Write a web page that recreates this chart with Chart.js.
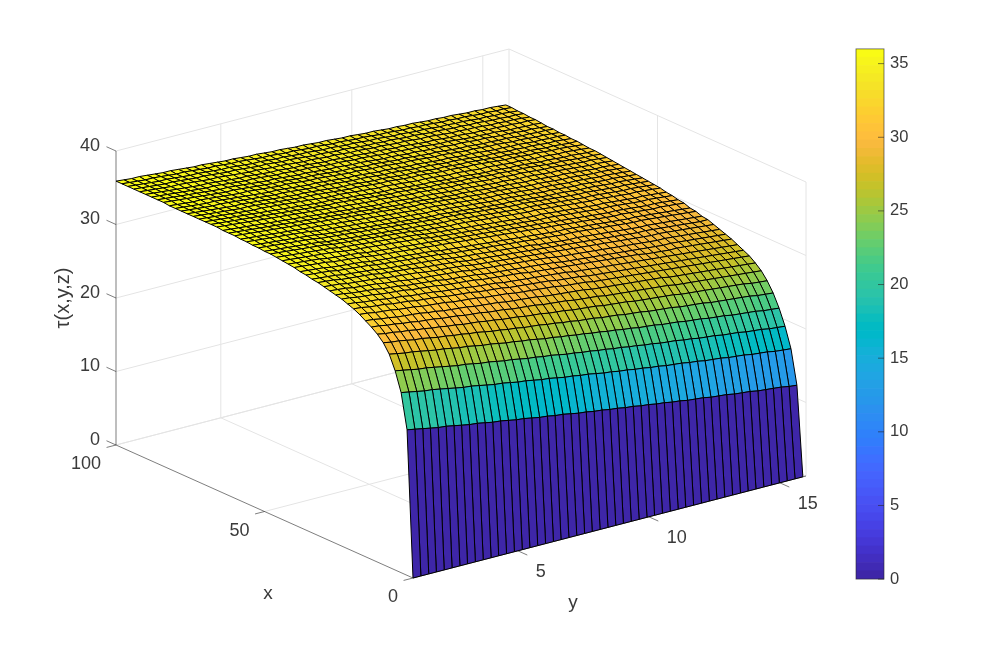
<!DOCTYPE html>
<html>
<head>
<meta charset="utf-8">
<title>tau surface</title>
<script src="https://cdn.jsdelivr.net/npm/chart.js@4"></script>
<style>
  html, body { margin: 0; padding: 0; background: #fff; }
  #main { position: absolute; left: 0; top: 0; }
  #bar { position: absolute; left: 850px; top: 33px; }
</style>
</head>
<body>
<canvas id="main" width="1003" height="651"></canvas>
<canvas id="bar" width="70" height="562"></canvas>
<script>
const xGrid = [0,2,4,6,8,10,12,14,16,18,20,22,24,26,28,30,32,34,36,38,40,42,44,46,48,50,52,54,56,58,60,62,64,66,68,70,72,74,76,78,80,82,84,86,88,90,92,94,96,98,100];
const yGrid = [1,1.30,1.60,1.89,2.19,2.49,2.79,3.08,3.38,3.68,3.98,4.27,4.57,4.87,5.17,5.46,5.76,6.06,6.36,6.65,6.95,7.25,7.55,7.84,8.14,8.44,8.74,9.03,9.33,9.63,9.93,10.22,10.52,10.82,11.12,11.41,11.71,12.01,12.31,12.60,12.90,13.20,13.50,13.79,14.09,14.39,14.69,14.98,15.28,15.58,15.88];
const xTicks = [0, 50, 100];
const yTicks = [5, 10, 15];
const zTicks = [0, 10, 20, 30, 40];
// tau: one row per xGrid entry, one column per yGrid entry
const tauRows = [
[0,0,0,0,0,0,0,0,0,0,0,0,0,0,0,0,0,0,0,0,0,0,0,0,0,0,0,0,0,0,0,0,0,0,0,0,0,0,0,0,0,0,0,0,0,0,0,0,0,0,0],
[19.8,19.6,19.4,19.2,19.0,18.9,18.7,18.5,18.3,18.2,18.0,17.8,17.7,17.5,17.3,17.2,17.0,16.8,16.7,16.5,16.4,16.2,16.0,15.9,15.7,15.6,15.4,15.3,15.1,15.0,14.8,14.7,14.5,14.4,14.2,14.1,13.9,13.8,13.7,13.5,13.4,13.3,13.1,13.0,12.9,12.7,12.6,12.5,12.4,12.2,12.1],
[24.5,24.3,24.1,23.9,23.8,23.6,23.4,23.2,23.0,22.9,22.7,22.5,22.3,22.2,22.0,21.8,21.7,21.5,21.3,21.2,21.0,20.8,20.7,20.5,20.4,20.2,20.0,19.9,19.7,19.6,19.4,19.3,19.1,19.0,18.8,18.7,18.6,18.4,18.3,18.1,18.0,17.9,17.7,17.6,17.5,17.3,17.2,17.1,16.9,16.8,16.7],
[27.1,26.9,26.7,26.5,26.4,26.2,26.0,25.8,25.6,25.5,25.3,25.1,25.0,24.8,24.6,24.5,24.3,24.1,24.0,23.8,23.7,23.5,23.3,23.2,23.0,22.9,22.7,22.6,22.4,22.3,22.1,22.0,21.8,21.7,21.5,21.4,21.3,21.1,21.0,20.8,20.7,20.6,20.4,20.3,20.2,20.0,19.9,19.8,19.6,19.5,19.4],
[29.0,28.8,28.6,28.5,28.3,28.1,27.9,27.8,27.6,27.4,27.3,27.1,26.9,26.8,26.6,26.4,26.3,26.1,26.0,25.8,25.6,25.5,25.3,25.2,25.0,24.9,24.7,24.6,24.4,24.3,24.1,24.0,23.8,23.7,23.6,23.4,23.3,23.2,23.0,22.9,22.8,22.6,22.5,22.4,22.2,22.1,22.0,21.9,21.7,21.6,21.5],
[30.2,30.0,29.9,29.7,29.5,29.4,29.2,29.0,28.9,28.7,28.6,28.4,28.3,28.1,27.9,27.8,27.6,27.5,27.3,27.2,27.1,26.9,26.8,26.6,26.5,26.3,26.2,26.1,25.9,25.8,25.7,25.5,25.4,25.3,25.1,25.0,24.9,24.8,24.6,24.5,24.4,24.3,24.1,24.0,23.9,23.8,23.7,23.6,23.4,23.3,23.2],
[31.0,30.8,30.7,30.5,30.4,30.2,30.1,29.9,29.8,29.6,29.5,29.3,29.2,29.1,28.9,28.8,28.6,28.5,28.4,28.2,28.1,28.0,27.8,27.7,27.6,27.4,27.3,27.2,27.1,26.9,26.8,26.7,26.6,26.4,26.3,26.2,26.1,26.0,25.9,25.7,25.6,25.5,25.4,25.3,25.2,25.1,25.0,24.9,24.7,24.6,24.5],
[31.6,31.5,31.3,31.2,31.0,30.9,30.7,30.6,30.5,30.3,30.2,30.1,29.9,29.8,29.7,29.5,29.4,29.3,29.1,29.0,28.9,28.8,28.6,28.5,28.4,28.3,28.1,28.0,27.9,27.8,27.6,27.5,27.4,27.3,27.2,27.1,27.0,26.9,26.8,26.6,26.5,26.4,26.3,26.2,26.1,26.0,25.9,25.8,25.7,25.6,25.5],
[32.1,32.0,31.8,31.7,31.5,31.4,31.3,31.2,31.0,30.9,30.7,30.6,30.5,30.4,30.2,30.1,30.0,29.9,29.7,29.6,29.5,29.4,29.3,29.1,29.0,28.9,28.8,28.7,28.6,28.4,28.3,28.2,28.1,28.0,27.9,27.8,27.7,27.6,27.5,27.3,27.2,27.1,27.0,26.9,26.8,26.7,26.6,26.5,26.4,26.3,26.2],
[32.6,32.5,32.3,32.2,32.1,31.9,31.8,31.7,31.5,31.4,31.3,31.2,31.0,30.9,30.8,30.7,30.5,30.4,30.3,30.2,30.0,29.9,29.8,29.7,29.6,29.5,29.3,29.2,29.1,29.0,28.8,28.7,28.6,28.5,28.4,28.3,28.2,28.1,28.0,27.9,27.8,27.7,27.6,27.5,27.4,27.3,27.2,27.1,27.0,26.9,26.8],
[33.0,32.9,32.7,32.6,32.5,32.3,32.2,32.1,31.9,31.8,31.7,31.6,31.4,31.3,31.2,31.1,30.9,30.8,30.7,30.6,30.4,30.3,30.2,30.1,30.0,29.9,29.7,29.6,29.5,29.4,29.2,29.1,29.0,28.9,28.8,28.7,28.6,28.5,28.4,28.3,28.2,28.1,28.0,27.9,27.8,27.7,27.6,27.5,27.4,27.3,27.2],
[33.3,33.2,33.0,32.9,32.8,32.6,32.5,32.4,32.2,32.1,32.0,31.9,31.7,31.6,31.5,31.4,31.2,31.1,31.0,30.9,30.7,30.6,30.5,30.4,30.3,30.2,30.1,30.0,29.9,29.7,29.6,29.5,29.4,29.3,29.2,29.1,29.0,28.9,28.8,28.7,28.6,28.5,28.4,28.3,28.2,28.1,28.0,27.9,27.8,27.7,27.6],
[33.6,33.5,33.3,33.2,33.1,32.9,32.8,32.7,32.6,32.4,32.3,32.2,32.1,31.9,31.8,31.7,31.6,31.5,31.3,31.2,31.1,31.0,30.9,30.8,30.6,30.5,30.4,30.3,30.2,30.1,30.0,29.9,29.8,29.7,29.6,29.5,29.4,29.3,29.2,29.0,28.9,28.8,28.7,28.7,28.6,28.5,28.4,28.3,28.2,28.1,28.0],
[33.8,33.7,33.5,33.4,33.3,33.2,33.0,32.9,32.8,32.6,32.5,32.4,32.3,32.2,32.0,31.9,31.8,31.7,31.6,31.4,31.3,31.2,31.1,31.0,30.9,30.8,30.7,30.6,30.5,30.3,30.2,30.1,30.0,29.9,29.8,29.7,29.6,29.5,29.4,29.3,29.2,29.1,29.0,29.0,28.9,28.8,28.7,28.6,28.5,28.4,28.3],
[34.0,33.9,33.8,33.6,33.5,33.4,33.3,33.1,33.0,32.9,32.7,32.6,32.5,32.4,32.3,32.2,32.1,32.0,31.8,31.7,31.6,31.5,31.4,31.3,31.2,31.1,31.0,30.9,30.8,30.6,30.5,30.4,30.3,30.2,30.1,30.0,29.9,29.8,29.7,29.6,29.5,29.4,29.3,29.3,29.2,29.1,29.0,28.9,28.8,28.7,28.6],
[34.2,34.1,34.0,33.8,33.7,33.6,33.5,33.4,33.2,33.1,33.0,32.9,32.8,32.6,32.5,32.4,32.3,32.2,32.1,31.9,31.8,31.7,31.6,31.5,31.4,31.3,31.2,31.1,31.0,30.9,30.8,30.7,30.6,30.5,30.4,30.3,30.2,30.1,30.0,29.9,29.8,29.7,29.6,29.6,29.5,29.4,29.3,29.2,29.1,29.0,28.9],
[34.4,34.3,34.2,34.0,33.9,33.8,33.7,33.6,33.4,33.3,33.2,33.1,33.0,32.8,32.7,32.6,32.5,32.4,32.3,32.1,32.0,31.9,31.8,31.7,31.6,31.5,31.4,31.3,31.2,31.1,31.0,30.9,30.8,30.7,30.6,30.5,30.4,30.3,30.2,30.1,30.0,29.9,29.9,29.8,29.7,29.6,29.5,29.4,29.3,29.2,29.2],
[34.5,34.4,34.3,34.2,34.0,33.9,33.8,33.7,33.6,33.4,33.3,33.2,33.1,33.0,32.9,32.8,32.7,32.6,32.4,32.3,32.2,32.1,32.0,31.9,31.8,31.7,31.6,31.5,31.4,31.2,31.1,31.0,30.9,30.8,30.8,30.7,30.6,30.5,30.4,30.3,30.2,30.1,30.0,30.0,29.9,29.8,29.7,29.6,29.5,29.4,29.3],
[34.7,34.6,34.5,34.4,34.2,34.1,34.0,33.9,33.8,33.6,33.5,33.4,33.3,33.2,33.1,33.0,32.9,32.8,32.6,32.5,32.4,32.3,32.2,32.1,32.0,31.9,31.8,31.7,31.6,31.5,31.4,31.3,31.2,31.1,31.1,31.0,30.9,30.8,30.7,30.6,30.5,30.4,30.3,30.3,30.2,30.1,30.0,29.9,29.8,29.7,29.6],
[34.8,34.7,34.6,34.5,34.3,34.2,34.1,34.0,33.9,33.7,33.6,33.5,33.4,33.3,33.2,33.1,33.0,32.9,32.7,32.6,32.5,32.4,32.3,32.2,32.1,32.0,31.9,31.8,31.7,31.6,31.5,31.4,31.3,31.2,31.2,31.1,31.0,30.9,30.8,30.7,30.6,30.5,30.4,30.4,30.3,30.2,30.1,30.0,29.9,29.8,29.7],
[35.0,34.9,34.8,34.7,34.6,34.4,34.3,34.2,34.1,34.0,33.8,33.7,33.6,33.5,33.4,33.3,33.2,33.1,33.0,32.9,32.8,32.7,32.6,32.5,32.4,32.3,32.2,32.1,32.0,31.9,31.8,31.7,31.6,31.5,31.4,31.3,31.2,31.1,31.0,30.9,30.8,30.7,30.7,30.6,30.5,30.4,30.3,30.3,30.2,30.1,30.0],
[35.1,35.0,34.9,34.8,34.7,34.5,34.4,34.3,34.2,34.1,33.9,33.8,33.7,33.6,33.5,33.4,33.3,33.2,33.1,33.0,32.9,32.8,32.7,32.6,32.5,32.4,32.3,32.2,32.1,32.0,31.9,31.8,31.7,31.6,31.5,31.4,31.3,31.2,31.1,31.0,30.9,30.8,30.8,30.7,30.6,30.5,30.4,30.4,30.3,30.2,30.1],
[35.2,35.1,35.0,34.9,34.8,34.7,34.6,34.5,34.3,34.2,34.1,34.0,33.9,33.8,33.7,33.6,33.5,33.4,33.3,33.1,33.0,32.9,32.8,32.7,32.6,32.5,32.4,32.3,32.2,32.1,32.0,31.9,31.8,31.7,31.7,31.6,31.5,31.4,31.3,31.2,31.1,31.0,31.0,30.9,30.8,30.7,30.6,30.6,30.5,30.4,30.3],
[35.3,35.2,35.1,35.0,34.9,34.8,34.7,34.6,34.4,34.3,34.2,34.1,34.0,33.9,33.8,33.7,33.6,33.5,33.4,33.2,33.1,33.0,32.9,32.8,32.7,32.6,32.5,32.4,32.3,32.2,32.1,32.0,31.9,31.8,31.8,31.7,31.6,31.5,31.4,31.3,31.2,31.1,31.1,31.0,30.9,30.8,30.7,30.7,30.6,30.5,30.4],
[35.4,35.3,35.2,35.1,35.0,34.9,34.8,34.7,34.5,34.4,34.3,34.2,34.1,34.0,33.9,33.8,33.7,33.6,33.5,33.3,33.2,33.1,33.0,32.9,32.9,32.8,32.7,32.6,32.5,32.4,32.3,32.2,32.1,32.0,32.0,31.9,31.8,31.7,31.6,31.5,31.4,31.3,31.3,31.2,31.1,31.0,30.9,30.9,30.8,30.7,30.6],
[35.4,35.3,35.2,35.1,35.0,34.9,34.8,34.7,34.5,34.4,34.3,34.2,34.1,34.0,33.9,33.8,33.7,33.6,33.5,33.4,33.3,33.2,33.1,33.0,33.0,32.9,32.8,32.7,32.6,32.5,32.4,32.3,32.2,32.1,32.1,32.0,31.9,31.8,31.7,31.6,31.5,31.4,31.4,31.3,31.2,31.1,31.0,31.0,30.9,30.8,30.7],
[35.5,35.4,35.3,35.2,35.1,35.0,34.9,34.8,34.6,34.5,34.4,34.3,34.2,34.1,34.0,33.9,33.8,33.7,33.6,33.5,33.4,33.3,33.2,33.1,33.1,33.0,32.9,32.8,32.7,32.6,32.5,32.4,32.3,32.2,32.2,32.1,32.0,31.9,31.8,31.7,31.6,31.5,31.5,31.4,31.3,31.2,31.1,31.1,31.0,30.9,30.8],
[35.5,35.4,35.3,35.2,35.1,35.0,34.9,34.8,34.7,34.5,34.4,34.3,34.2,34.1,34.0,33.9,33.8,33.7,33.6,33.5,33.4,33.3,33.2,33.1,33.1,33.0,32.9,32.8,32.7,32.6,32.5,32.4,32.3,32.3,32.2,32.1,32.0,31.9,31.8,31.8,31.7,31.6,31.5,31.5,31.4,31.3,31.2,31.2,31.1,31.0,30.9],
[35.6,35.5,35.4,35.3,35.2,35.1,35.0,34.9,34.8,34.6,34.5,34.4,34.3,34.2,34.1,34.0,33.9,33.8,33.7,33.6,33.5,33.4,33.3,33.2,33.2,33.1,33.0,32.9,32.8,32.7,32.6,32.5,32.4,32.4,32.3,32.2,32.1,32.0,31.9,31.9,31.8,31.7,31.6,31.6,31.5,31.4,31.3,31.3,31.2,31.1,31.0],
[35.6,35.5,35.4,35.3,35.2,35.1,35.0,34.9,34.8,34.7,34.6,34.5,34.4,34.3,34.2,34.1,34.0,33.9,33.8,33.7,33.6,33.5,33.4,33.3,33.3,33.2,33.1,33.0,32.9,32.8,32.7,32.6,32.5,32.5,32.4,32.3,32.2,32.1,32.0,32.0,31.9,31.8,31.7,31.7,31.6,31.5,31.4,31.4,31.3,31.2,31.1],
[35.7,35.6,35.5,35.4,35.3,35.2,35.1,35.0,34.9,34.8,34.7,34.6,34.5,34.4,34.3,34.2,34.1,34.0,33.9,33.8,33.7,33.6,33.5,33.4,33.4,33.3,33.2,33.1,33.0,32.9,32.8,32.7,32.6,32.6,32.5,32.4,32.3,32.2,32.1,32.1,32.0,31.9,31.8,31.8,31.7,31.6,31.5,31.5,31.4,31.3,31.2],
[35.7,35.6,35.5,35.4,35.3,35.2,35.1,35.0,34.9,34.8,34.7,34.6,34.5,34.4,34.3,34.2,34.1,34.0,33.9,33.8,33.7,33.6,33.5,33.5,33.4,33.3,33.2,33.1,33.0,32.9,32.9,32.8,32.7,32.6,32.5,32.5,32.4,32.3,32.2,32.2,32.1,32.0,31.9,31.9,31.8,31.7,31.6,31.5,31.5,31.4,31.3],
[35.7,35.6,35.5,35.4,35.3,35.2,35.1,35.0,34.9,34.8,34.7,34.6,34.5,34.4,34.3,34.2,34.1,34.0,33.9,33.8,33.7,33.7,33.6,33.5,33.4,33.3,33.3,33.2,33.1,33.0,32.9,32.9,32.8,32.7,32.6,32.5,32.5,32.4,32.3,32.3,32.2,32.1,32.0,32.0,31.9,31.8,31.7,31.6,31.6,31.5,31.4],
[35.8,35.7,35.6,35.5,35.4,35.3,35.2,35.1,35.0,34.9,34.8,34.7,34.6,34.5,34.4,34.3,34.2,34.1,34.0,33.9,33.8,33.8,33.7,33.6,33.5,33.4,33.4,33.3,33.2,33.1,33.0,33.0,32.9,32.8,32.7,32.6,32.6,32.5,32.4,32.4,32.3,32.2,32.1,32.1,32.0,31.9,31.8,31.7,31.7,31.6,31.5],
[35.8,35.7,35.6,35.5,35.4,35.3,35.2,35.1,35.0,34.9,34.8,34.7,34.6,34.5,34.4,34.3,34.3,34.2,34.1,34.0,33.9,33.8,33.7,33.6,33.6,33.5,33.4,33.3,33.2,33.2,33.1,33.0,32.9,32.9,32.8,32.7,32.6,32.6,32.5,32.4,32.4,32.3,32.2,32.1,32.0,32.0,31.9,31.8,31.7,31.7,31.6],
[35.8,35.7,35.6,35.5,35.4,35.3,35.2,35.1,35.0,34.9,34.8,34.7,34.6,34.5,34.4,34.3,34.3,34.2,34.1,34.0,33.9,33.8,33.7,33.6,33.6,33.5,33.4,33.3,33.2,33.2,33.1,33.0,32.9,32.9,32.8,32.7,32.6,32.6,32.5,32.4,32.4,32.3,32.2,32.1,32.1,32.0,31.9,31.9,31.8,31.7,31.7],
[35.8,35.7,35.6,35.5,35.4,35.3,35.2,35.1,35.1,35.0,34.9,34.8,34.7,34.6,34.5,34.4,34.3,34.2,34.2,34.1,34.0,33.9,33.8,33.7,33.7,33.6,33.5,33.4,33.3,33.3,33.2,33.1,33.0,33.0,32.9,32.8,32.7,32.7,32.6,32.5,32.4,32.4,32.3,32.2,32.2,32.1,32.0,32.0,31.9,31.8,31.7],
[35.8,35.7,35.6,35.5,35.4,35.3,35.2,35.2,35.1,35.0,34.9,34.8,34.7,34.6,34.5,34.5,34.4,34.3,34.2,34.1,34.0,34.0,33.9,33.8,33.7,33.7,33.6,33.5,33.4,33.4,33.3,33.2,33.1,33.1,33.0,32.9,32.9,32.8,32.7,32.6,32.5,32.5,32.4,32.3,32.3,32.2,32.1,32.1,32.0,31.9,31.8],
[35.8,35.7,35.6,35.5,35.4,35.3,35.2,35.2,35.1,35.0,34.9,34.8,34.7,34.6,34.5,34.5,34.4,34.3,34.2,34.1,34.0,34.0,33.9,33.8,33.7,33.7,33.6,33.5,33.4,33.4,33.3,33.2,33.1,33.1,33.0,32.9,32.9,32.8,32.7,32.6,32.5,32.5,32.4,32.3,32.3,32.2,32.1,32.1,32.0,31.9,31.9],
[35.8,35.7,35.6,35.5,35.4,35.4,35.3,35.2,35.1,35.0,34.9,34.8,34.7,34.7,34.6,34.5,34.4,34.3,34.3,34.2,34.1,34.0,33.9,33.9,33.8,33.7,33.6,33.6,33.5,33.4,33.3,33.3,33.2,33.1,33.0,33.0,32.9,32.8,32.7,32.6,32.6,32.5,32.4,32.4,32.3,32.3,32.2,32.1,32.1,32.0,31.9],
[35.8,35.7,35.6,35.5,35.4,35.4,35.3,35.2,35.1,35.0,34.9,34.8,34.7,34.7,34.6,34.5,34.4,34.3,34.3,34.2,34.1,34.0,33.9,33.9,33.8,33.7,33.6,33.6,33.5,33.4,33.3,33.3,33.2,33.1,33.0,33.0,32.9,32.8,32.8,32.7,32.6,32.5,32.5,32.4,32.4,32.3,32.2,32.2,32.1,32.1,32.0],
[35.8,35.7,35.6,35.5,35.5,35.4,35.3,35.2,35.1,35.0,35.0,34.9,34.8,34.7,34.6,34.6,34.5,34.4,34.3,34.3,34.2,34.1,34.0,33.9,33.9,33.8,33.7,33.7,33.6,33.5,33.4,33.4,33.3,33.2,33.1,33.1,33.0,32.9,32.8,32.8,32.7,32.6,32.6,32.5,32.4,32.4,32.3,32.2,32.2,32.1,32.0],
[35.9,35.8,35.7,35.6,35.5,35.4,35.3,35.2,35.1,35.1,35.0,34.9,34.8,34.7,34.6,34.6,34.5,34.4,34.3,34.3,34.2,34.1,34.0,33.9,33.9,33.8,33.7,33.7,33.6,33.5,33.4,33.4,33.3,33.2,33.1,33.1,33.0,32.9,32.8,32.8,32.7,32.6,32.6,32.5,32.5,32.4,32.3,32.3,32.2,32.2,32.1],
[35.9,35.8,35.7,35.6,35.5,35.4,35.3,35.2,35.1,35.1,35.0,34.9,34.8,34.7,34.6,34.6,34.5,34.4,34.3,34.3,34.2,34.1,34.0,34.0,33.9,33.8,33.8,33.7,33.6,33.5,33.5,33.4,33.3,33.3,33.2,33.1,33.1,33.0,32.9,32.9,32.8,32.7,32.7,32.6,32.5,32.5,32.4,32.3,32.3,32.2,32.1],
[35.9,35.8,35.7,35.6,35.5,35.4,35.3,35.2,35.2,35.1,35.0,34.9,34.8,34.8,34.7,34.6,34.5,34.5,34.4,34.3,34.3,34.2,34.1,34.0,34.0,33.9,33.8,33.8,33.7,33.6,33.5,33.5,33.4,33.3,33.3,33.2,33.1,33.0,33.0,32.9,32.8,32.7,32.7,32.6,32.6,32.5,32.4,32.4,32.3,32.3,32.2],
[35.9,35.8,35.7,35.6,35.5,35.4,35.3,35.2,35.2,35.1,35.0,34.9,34.8,34.8,34.7,34.6,34.5,34.5,34.4,34.3,34.3,34.2,34.1,34.0,34.0,33.9,33.8,33.8,33.7,33.6,33.6,33.5,33.4,33.4,33.3,33.2,33.1,33.1,33.0,32.9,32.9,32.8,32.7,32.7,32.6,32.6,32.5,32.5,32.4,32.4,32.3],
[35.9,35.8,35.7,35.6,35.5,35.5,35.4,35.3,35.2,35.1,35.1,35.0,34.9,34.8,34.7,34.7,34.6,34.5,34.5,34.4,34.3,34.2,34.2,34.1,34.0,34.0,33.9,33.8,33.8,33.7,33.6,33.6,33.5,33.4,33.4,33.3,33.2,33.2,33.1,33.0,32.9,32.9,32.8,32.8,32.7,32.6,32.6,32.5,32.5,32.4,32.3],
[35.9,35.8,35.7,35.6,35.5,35.5,35.4,35.3,35.2,35.2,35.1,35.0,34.9,34.9,34.8,34.7,34.6,34.6,34.5,34.4,34.4,34.3,34.2,34.1,34.1,34.0,33.9,33.9,33.8,33.7,33.6,33.6,33.5,33.5,33.4,33.3,33.3,33.2,33.1,33.1,33.0,32.9,32.9,32.8,32.8,32.7,32.6,32.6,32.5,32.5,32.4],
[35.9,35.8,35.7,35.6,35.5,35.5,35.4,35.3,35.2,35.2,35.1,35.0,34.9,34.9,34.8,34.7,34.6,34.6,34.5,34.4,34.4,34.3,34.2,34.2,34.1,34.0,34.0,33.9,33.8,33.8,33.7,33.6,33.6,33.5,33.4,33.4,33.3,33.2,33.2,33.1,33.0,33.0,32.9,32.9,32.8,32.7,32.7,32.6,32.6,32.5,32.4],
[35.9,35.8,35.7,35.6,35.6,35.5,35.4,35.3,35.3,35.2,35.1,35.0,35.0,34.9,34.8,34.8,34.7,34.6,34.5,34.5,34.4,34.3,34.3,34.2,34.1,34.1,34.0,33.9,33.9,33.8,33.7,33.7,33.6,33.5,33.5,33.4,33.3,33.3,33.2,33.2,33.1,33.0,33.0,32.9,32.9,32.8,32.7,32.7,32.6,32.6,32.5],
[35.9,35.8,35.7,35.7,35.6,35.5,35.4,35.4,35.3,35.2,35.1,35.1,35.0,34.9,34.8,34.8,34.7,34.6,34.6,34.5,34.4,34.4,34.3,34.2,34.2,34.1,34.0,34.0,33.9,33.8,33.8,33.7,33.6,33.6,33.5,33.4,33.4,33.3,33.3,33.2,33.1,33.1,33.0,33.0,32.9,32.8,32.8,32.7,32.7,32.6,32.5]
];

// MATLAB parula, 64 levels, colour limits 0..36
const parula = [[.2422,.1504,.6603],[.2504,.1650,.7076],[.2578,.1818,.7511],[.2647,.1978,.7952],[.2706,.2147,.8364],[.2751,.2342,.8710],[.2783,.2559,.8991],[.2803,.2782,.9221],[.2813,.3006,.9414],[.2810,.3228,.9579],[.2795,.3447,.9717],[.2760,.3667,.9829],[.2699,.3892,.9906],[.2602,.4123,.9952],[.2440,.4358,.9988],[.2206,.4603,.9973],[.1963,.4847,.9892],[.1834,.5074,.9798],[.1786,.5289,.9682],[.1764,.5499,.9520],[.1687,.5703,.9359],[.1540,.5902,.9218],[.1460,.6091,.9079],[.1380,.6276,.8973],[.1248,.6459,.8883],[.1113,.6635,.8763],[.0952,.6798,.8598],[.0689,.6948,.8394],[.0297,.7082,.8163],[.0036,.7203,.7917],[.0067,.7312,.7660],[.0433,.7411,.7394],[.0964,.7500,.7120],[.1408,.7584,.6842],[.1717,.7670,.6554],[.1938,.7758,.6251],[.2161,.7843,.5923],[.2470,.7918,.5567],[.2906,.7973,.5188],[.3406,.8008,.4789],[.3909,.8029,.4354],[.4456,.8024,.3909],[.5044,.7993,.3480],[.5616,.7942,.3045],[.6174,.7876,.2612],[.6720,.7793,.2227],[.7242,.7698,.1910],[.7738,.7598,.1646],[.8203,.7498,.1535],[.8634,.7406,.1596],[.9035,.7330,.1774],[.9393,.7288,.2100],[.9728,.7298,.2394],[.9956,.7434,.2371],[.9970,.7659,.2199],[.9952,.7893,.2028],[.9892,.8136,.1885],[.9786,.8386,.1766],[.9676,.8639,.1643],[.9610,.8890,.1537],[.9597,.9135,.1423],[.9628,.9373,.1265],[.9691,.9606,.1064],[.9769,.9839,.0805]];
const colorMax = 36;

const FONT = '"Liberation Sans", Arial, sans-serif';
const INK = "#3a3a3a";
const GRID = "#e4e4e4";
const AXIS = "rgba(38,38,38,0.75)";

// orthographic view of the box, px per data unit
const yMin = 1, yMax = 16, xMax = 100, zMax = 40;
const view = { ox: 413, oy: 578, xx: -2.97, xy: -1.33, yx: 26.2, yy: -6.8, zy: -7.35 };

function project(x, y, z) {
  return {
    x: view.ox + x * view.xx + (y - yMin) * view.yx,
    y: view.oy + x * view.xy + (y - yMin) * view.yy + z * view.zy,
  };
}

function levelColor(v) {
  const k = Math.min(parula.length - 1, Math.floor(v / colorMax * parula.length));
  const c = parula[k];
  return `rgb(${Math.round(c[0] * 255)},${Math.round(c[1] * 255)},${Math.round(c[2] * 255)})`;
}

function segment(points, color, width) {
  return { data: points, showLine: true, fill: false, borderColor: color, borderWidth: width,
    pointRadius: 0, tension: 0, clip: false };
}

function surfaceDatasets() {
  // chart.js paints the first dataset last, so the near cells go first
  const out = [];
  for (let i = 0; i < xGrid.length - 1; i++) {
    for (let j = 0; j < yGrid.length - 1; j++) {
      const a = project(xGrid[i], yGrid[j], tauRows[i][j]);
      const b = project(xGrid[i + 1], yGrid[j], tauRows[i + 1][j]);
      const c = project(xGrid[i + 1], yGrid[j + 1], tauRows[i + 1][j + 1]);
      const d = project(xGrid[i], yGrid[j + 1], tauRows[i][j + 1]);
      out.push({ data: [a, b, c, d, a], showLine: true, fill: "shape",
        backgroundColor: levelColor(tauRows[i][j]), borderColor: "#000", borderWidth: 1,
        pointRadius: 0, tension: 0, clip: false });
    }
  }
  return out;
}

function axisDatasets() {
  const out = [];
  out.push(segment([project(xMax, yMin, 0), project(xMax, yMin, zMax)], AXIS, 0.8));
  out.push(segment([project(0, yMin, 0), project(xMax, yMin, 0)], AXIS, 0.8));
  out.push(segment([project(0, yMin, 0), project(0, yMax, 0)], AXIS, 0.8));
  zTicks.forEach((z) => out.push(segment([project(xMax, yMin, z), project(xMax + 3.2, yMin, z)], AXIS, 0.8)));
  xTicks.forEach((x) => out.push(segment([project(x, yMin, 0), project(x, yMin - 0.36, 0)], AXIS, 0.8)));
  yTicks.forEach((y) => out.push(segment([project(0, y, 0), project(-3.2, y, 0)], AXIS, 0.8)));
  return out;
}

function gridDatasets() {
  const out = [];
  zTicks.forEach((z) => out.push(segment([project(xMax, yMin, z), project(xMax, yMax, z), project(0, yMax, z)], GRID, 1)));
  yTicks.forEach((y) => out.push(segment([project(0, y, 0), project(xMax, y, 0), project(xMax, y, zMax)], GRID, 1)));
  xTicks.forEach((x) => out.push(segment([project(x, yMin, 0), project(x, yMax, 0), project(x, yMax, zMax)], GRID, 1)));
  return out;
}

const axisText = {
  id: "axisText",
  afterDraw(chart) {
    const ctx = chart.ctx;
    const sx = chart.scales.x, sy = chart.scales.y;
    const put = (text, p, dx, dy, align, size, rot) => {
      ctx.save();
      ctx.font = `${size}px ${FONT}`;
      ctx.fillStyle = INK;
      ctx.textAlign = align;
      ctx.textBaseline = "middle";
      ctx.translate(sx.getPixelForValue(p.x) + dx, sy.getPixelForValue(p.y) + dy);
      if (rot) ctx.rotate(rot);
      ctx.fillText(text, 0, 0);
      ctx.restore();
    };
    zTicks.forEach((z) => put(String(z), project(xMax, yMin, z), -16, -5, "right", 18));
    xTicks.forEach((x) => put(String(x), project(x, yMin, 0), -15, 19.5, "right", 18));
    yTicks.forEach((y) => put(String(y), project(0, y, 0), 18, 21, "left", 18));
    put("x", project(50, yMin, 0), 3.5, 82.5, "center", 19);
    put("y", project(0, 8.5, 0), -36.5, 76, "center", 19);
    put("\u03c4(x,y,z)", project(xMax, yMin, 20), -53, 0, "center", 20, -Math.PI / 2);
  },
};

new Chart(document.getElementById("main"), {
  type: "scatter",
  data: { datasets: surfaceDatasets().concat(axisDatasets(), gridDatasets()) },
  options: {
    responsive: false,
    animation: false,
    events: [],
    parsing: false,
    normalized: true,
    layout: { padding: 0 },
    plugins: { legend: { display: false }, tooltip: { enabled: false } },
    scales: {
      x: { type: "linear", display: false, min: 0, max: 1003 },
      y: { type: "linear", display: false, min: 0, max: 651, reverse: true },
    },
  },
  plugins: [axisText],
});

// colour bar
const barTicks = [0, 5, 10, 15, 20, 25, 30, 35];
const barFrame = {
  id: "barFrame",
  afterDraw(chart) {
    const ctx = chart.ctx, a = chart.chartArea, sy = chart.scales.y;
    ctx.save();
    ctx.strokeStyle = "rgba(38,38,38,0.75)";
    ctx.lineWidth = 0.8;
    ctx.strokeRect(a.left, a.top, a.right - a.left, a.bottom - a.top);
    barTicks.forEach((t) => {
      const py = sy.getPixelForValue(t);
      ctx.beginPath();
      ctx.moveTo(a.right, py);
      ctx.lineTo(a.right - 6, py);
      ctx.stroke();
    });
    ctx.restore();
  },
};

new Chart(document.getElementById("bar"), {
  type: "bar",
  data: {
    labels: [""],
    datasets: parula.map((c, k) => ({
      data: [[k * colorMax / parula.length, (k + 1) * colorMax / parula.length]],
      backgroundColor: levelColor((k + 0.5) * colorMax / parula.length),
      borderWidth: 0, barPercentage: 1, categoryPercentage: 1, grouped: false,
    })),
  },
  options: {
    responsive: false,
    animation: false,
    events: [],
    layout: { padding: { left: 6, top: 1, bottom: 6, right: 0 } },
    plugins: { legend: { display: false }, tooltip: { enabled: false } },
    scales: {
      x: { display: false, stacked: false },
      y: {
        position: "right", min: 0, max: colorMax,
        afterBuildTicks(scale) { scale.ticks = barTicks.map((v) => ({ value: v })); },
        afterFit(scale) { scale.width = 36; },
        grid: { display: false, drawTicks: false },
        border: { display: false },
        ticks: { color: INK, padding: 6, font: { family: FONT, size: 16.5 } },
      },
    },
  },
  plugins: [barFrame],
});
</script>
</body>
</html>
